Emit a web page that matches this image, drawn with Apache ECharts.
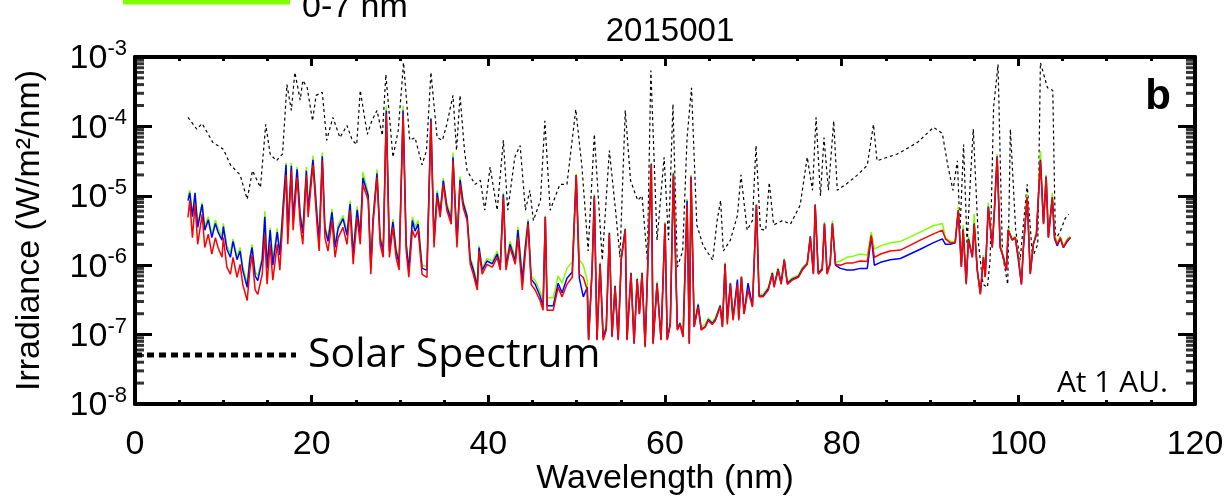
<!DOCTYPE html>
<html>
<head>
<meta charset="utf-8">
<script src="https://cdn.jsdelivr.net/npm/echarts/dist/echarts.min.js"></script>
<style>html,body{margin:0;padding:0;background:#fff;}#chart{width:1226px;height:499px;}</style>
</head>
<body>
<div id="chart"></div>
<script>
// ---- Data ----
const xTicks = [0, 20, 40, 60, 80, 100, 120];
const yDecades = [1e-8, 1e-7, 1e-6, 1e-5, 1e-4, 1e-3];

// Solar spectrum (black dotted)
const solarWl = [6.0,7.0,7.6,8.8,10.0,10.8,11.9,12.7,13.3,14.2,14.8,15.3,16.0,16.7,17.2,17.7,18.1,18.7,19.0,19.5,
20.1,20.5,21.2,21.7,22.4,23.2,24.0,24.6,25.1,25.5,26.3,26.8,27.4,28.0,28.4,29.2,29.8,30.4,31.1,31.7,
32.5,33.0,33.5,34.2,34.8,35.3,36.0,36.4,36.8,37.3,37.6,38.5,39.1,39.6,40.2,41.0,41.7,42.2,43.0,43.6,
44.2,44.7,45.1,45.9,46.4,47.0,48.1,48.9,49.9,50.6,51.3,52.0,52.9,53.7,54.4,54.9,55.5,56.1,56.9,57.4,
58.0,58.4,59.1,59.9,60.4,60.9,61.4,62.0,62.5,63.0,63.6,64.3,65.4,65.9,66.3,66.6,67.4,68.2,68.6,69.3,
69.9,70.3,70.8,71.4,71.8,72.3,73.3,74.2,75.3,76.1,76.7,77.1,77.6,78.0,78.5,79.1,79.5,80.6,81.8,82.9,
83.6,84.0,85.2,86.3,86.6,88.6,90.4,91.4,92.0,92.6,93.1,93.4,93.8,94.2,94.6,94.9,95.5,96.0,96.5,96.8,
97.2,97.7,98.2,98.8,99.1,99.7,100.2,101.0,101.6,102.2,102.5,103.3,103.9,104.2,104.8,105.3,105.7];
const solarIrr = [1.35e-4,9.1e-5,1.1e-4,5.9e-5,4.7e-5,2.8e-5,2.0e-5,8.9e-6,2.3e-5,1.32e-5,1.07e-4,4.0e-5,3.2e-5,4.0e-5,4.0e-4,1.7e-4,6.0e-4,2.4e-4,4.6e-4,3.6e-4,
1.2e-4,2.8e-4,3.1e-4,6.3e-5,1.35e-4,6.9e-5,1.03e-4,6.3e-5,5.5e-5,3.3e-4,7.7e-5,1.2e-4,1.7e-4,7.4e-5,5.6e-4,3.6e-5,8.8e-5,8.3e-4,6.3e-5,6.9e-5,
2.8e-5,4.5e-5,6.0e-4,6.9e-5,6.3e-5,1.07e-4,2.8e-4,4.5e-5,2.8e-4,4.5e-5,2.3e-5,1.46e-5,1.67e-5,6.2e-6,2.6e-5,6.2e-6,6.3e-5,6.2e-6,3.6e-5,5.3e-5,
6.2e-6,1.2e-5,4.4e-6,8.6e-6,1.2e-4,6.2e-6,1.46e-5,1.46e-5,1.76e-4,2.6e-5,1.6e-6,7.7e-5,1.18e-6,4.5e-5,6.2e-6,1.3e-6,1.7e-4,1.67e-5,8.6e-6,1.0e-5,
1.18e-6,6.4e-4,2.3e-6,3.6e-5,2.3e-6,2.1e-4,9.4e-7,1.6e-6,6.9e-5,3.6e-4,3.8e-6,1.94e-6,1.18e-6,4.4e-6,8.6e-6,1.6e-6,2.3e-6,5.2e-6,2.0e-5,3.2e-6,
4.4e-6,5.3e-5,3.3e-6,3.2e-6,1.56e-5,3.8e-6,4.4e-6,3.9e-6,7.3e-6,3.6e-5,1.2e-5,1.35e-4,1.0e-5,6.9e-5,1.2e-5,1.2e-4,1.2e-5,1.5e-5,2.0e-5,2.75e-5,
1.07e-4,3.2e-5,3.6e-5,4.0e-5,4.2e-5,5.9e-5,9.7e-5,7.9e-5,2.8e-5,1.2e-5,3.2e-5,3.2e-6,5.5e-5,2.0e-6,2.0e-5,9.1e-5,2.0e-6,5.3e-7,4.8e-7,1.18e-6,
1.9e-4,7.8e-4,1.44e-6,5.3e-7,9.1e-5,3.2e-6,1.18e-6,1.46e-5,1.3e-6,2.0e-6,8.3e-4,3.6e-4,3.3e-4,2.3e-6,3.2e-6,4.7e-6,5.4e-6];

// Model spectra (shared wavelength grid)
const wavelength = [
6.0,6.2,6.5,6.8,7.1,7.6,7.9,8.3,8.7,9.1,
9.4,9.85,10.0,10.4,10.8,11.1,11.55,11.9,12.2,12.7,
13.0,13.25,13.6,13.9,14.4,14.7,14.95,15.3,15.6,16.1,
16.4,16.8,17.1,17.3,17.7,17.9,18.35,18.7,19.0,19.4,
19.6,20.15,20.6,20.85,21.2,21.5,21.85,22.3,22.65,23.0,
23.55,24.0,24.35,24.7,25.15,25.5,25.8,26.4,26.7,26.95,
27.4,27.75,28.1,28.45,28.8,29.2,29.55,29.9,30.35,30.7,
31.0,31.4,31.7,32.05,32.5,33.05,33.5,33.85,34.2,34.55,
34.9,35.3,35.8,36.0,36.45,36.8,37.15,37.6,37.95,38.3,
38.75,38.95,39.3,39.85,40.45,41.0,41.35,41.7,42.0,42.45,
43.05,43.35,43.85,44.15,44.5,44.85,45.3,45.85,46.2,46.45,
46.65,47.35,47.9,48.35,48.9,49.5,49.95,50.3,50.75,51.2,
51.35,51.75,52.0,52.3,52.65,53.0,53.35,53.7,54.0,54.35,
54.7,55.05,55.5,55.7,56.15,56.5,56.85,57.1,57.4,57.75,
58.1,58.45,58.65,59.1,59.55,60.0,60.25,60.6,60.95,61.4,
61.7,62.05,62.5,62.75,62.95,63.3,63.75,64.1,64.55,64.9,
65.35,65.7,66.25,66.5,66.8,67.05,67.4,67.7,68.2,68.35,
68.65,68.95,69.4,69.9,70.35,70.65,71.1,71.7,72.15,72.35,
72.8,73.15,73.5,73.85,74.4,75.1,75.55,76.1,76.45,76.8,
77.0,77.35,77.8,78.05,78.35,78.7,78.95,79.3,79.85,80.6,
81.3,82.1,82.9,83.35,83.7,84.4,85.5,86.65,88.9,90.35,
91.4,91.75,92.3,92.85,93.2,93.55,93.75,94.1,94.35,94.8,
95.0,95.35,95.7,96.05,96.25,96.6,97.05,97.3,97.6,97.95,
98.3,98.65,98.85,99.3,99.65,100.0,100.35,100.55,101.0,101.35,
101.7,102.05,102.5,102.85,103.15,103.4,103.85,104.1,104.4,104.75,
105.1,105.55,105.9];

const irrRed = [
4.9e-6,8.6e-6,2.5e-6,7.5e-6,2.0e-6,5.4e-6,1.8e-6,2.8e-6,1.44e-6,2.5e-6,
1.8e-6,1.3e-6,2.5e-6,9.4e-7,7.4e-7,1.3e-6,6.7e-7,1.03e-6,5.3e-7,3.1e-7,
8.5e-7,1.4e-6,4.4e-7,3.8e-7,7.4e-7,2.8e-6,5.3e-7,2.0e-6,6.1e-7,2.0e-6,
8.5e-7,6.2e-6,2.0e-5,2.0e-6,2.3e-5,3.2e-6,1.85e-5,3.9e-6,2.0e-6,2.0e-5,
4.9e-6,2.8e-5,3.9e-6,1.6e-6,3.2e-5,2.5e-6,1.6e-6,4.4e-6,1.3e-6,2.5e-6,
3.5e-6,2.0e-6,6.2e-6,1.03e-6,4.9e-6,2.0e-6,1.46e-5,8.6e-6,7.4e-7,3.9e-6,
1.85e-5,2.0e-6,1.3e-6,1.5e-4,1.3e-6,3.5e-6,1.3e-6,8.5e-7,1.5e-4,1.6e-6,
6.7e-7,3.2e-6,2.5e-6,3.2e-6,7.4e-7,6.7e-7,1.2e-4,1.8e-6,9.5e-6,4.9e-6,
1.46e-5,6.2e-6,3.9e-6,3.2e-5,1.8e-6,1.46e-5,6.8e-6,4.4e-6,1.03e-6,7.4e-7,
4.4e-7,1.6e-6,7.4e-7,1.03e-6,9.4e-7,1.3e-6,8.5e-7,9.5e-6,8.5e-7,1.8e-6,
1.03e-6,2.5e-6,4.4e-7,1.3e-6,3.9e-6,5.3e-7,4.4e-7,3.1e-7,2.25e-7,4.9e-6,
2.25e-7,2.25e-7,4.8e-7,3.5e-7,5.3e-7,6.7e-7,2.0e-5,7.4e-7,6.7e-7,4.4e-7,
8.3e-8,8.5e-7,9.5e-6,8.3e-8,1.03e-6,8.3e-8,1.16e-7,2.8e-6,9.2e-8,4.8e-7,
8.3e-8,1.18e-6,3.2e-6,8.3e-8,7.4e-7,7.3e-8,6.1e-7,1.97e-7,7.4e-7,6.6e-8,
1.44e-6,2.8e-5,7.3e-8,5.3e-7,8.3e-8,3.9e-6,8.3e-8,1.4e-7,2.0e-5,1.16e-7,
1.4e-7,9.2e-8,7.5e-6,7.3e-8,1.85e-5,1.28e-7,2.5e-7,1.16e-7,1.28e-7,1.6e-7,
1.4e-7,1.6e-7,2.5e-7,1.28e-7,1.03e-6,1.4e-7,5.3e-7,1.6e-7,5.3e-7,1.6e-7,
6.7e-7,1.97e-7,4.4e-7,2.5e-7,7.3e-6,3.5e-7,3.5e-7,4.4e-7,7.4e-7,4.8e-7,
8.5e-7,5.3e-7,1.18e-6,5.3e-7,6.1e-7,6.7e-7,8.5e-7,1.03e-6,2.5e-6,7.4e-7,
7.3e-6,7.4e-7,8.5e-7,3.9e-6,7.4e-7,1.03e-6,3.9e-6,1.03e-6,1.0e-6,1.08e-6,
1.08e-6,1.15e-6,1.13e-6,2.7e-6,1.3e-6,1.45e-6,1.6e-6,1.65e-6,2.3e-6,2.8e-6,
3.2e-6,2.4e-6,2.1e-6,2.1e-6,6.2e-6,9.4e-7,3.2e-6,5.3e-7,2.3e-6,1.3e-6,
3.9e-6,8.5e-7,3.8e-7,1.3e-6,6.7e-7,6.8e-6,1.8e-6,6.2e-6,3.6e-5,1.8e-6,
1.3e-6,8.5e-7,3.2e-6,2.3e-6,2.5e-6,1.3e-6,5.3e-7,1.6e-6,9.5e-6,7.4e-7,
2.0e-6,2.8e-6,3.2e-5,3.9e-6,1.85e-5,2.5e-6,9.5e-6,2.5e-6,2.0e-6,2.5e-6,
1.8e-6,2.3e-6,2.5e-6];

const irrGreen = [
9.5e-6,1.2e-5,5.5e-6,1.0e-5,4.0e-6,8.0e-6,3.6e-6,5.0e-6,2.8e-6,4.5e-6,
3.4e-6,2.6e-6,4.0e-6,1.9e-6,1.5e-6,2.4e-6,1.3e-6,1.8e-6,9.5e-7,5.5e-7,
1.3e-6,2.0e-6,8.0e-7,7.0e-7,1.3e-6,6.0e-6,1.0e-6,3.5e-6,1.2e-6,3.4e-6,
1.6e-6,9.0e-6,3.0e-5,3.4e-6,3.0e-5,5.0e-6,2.6e-5,5.8e-6,3.2e-6,2.6e-5,
7.0e-6,3.8e-5,5.8e-6,2.5e-6,4.2e-5,3.8e-6,2.5e-6,6.5e-6,2.0e-6,3.8e-6,
5.2e-6,3.0e-6,8.5e-6,1.6e-6,7.0e-6,3.0e-6,2.2e-5,1.1e-5,1.0e-6,5.0e-6,
2.4e-5,2.7e-6,1.8e-6,2.0e-4,1.8e-6,4.6e-6,1.8e-6,1.2e-6,2.0e-4,2.2e-6,
9.5e-7,5.0e-6,3.6e-6,4.4e-6,1.0e-6,9.5e-7,1.3e-4,2.4e-6,1.2e-5,6.2e-6,
1.8e-5,7.8e-6,5.0e-6,4.2e-5,2.4e-6,1.9e-5,8.5e-6,5.4e-6,1.3e-6,9.5e-7,
5.5e-7,1.9e-6,9.0e-7,1.25e-6,1.15e-6,1.6e-6,1.05e-6,1.1e-5,1.05e-6,2.2e-6,
1.3e-6,3.6e-6,6.5e-7,1.9e-6,4.6e-6,7.0e-7,6.0e-7,4.2e-7,3.2e-7,5.2e-6,
3.4e-7,3.4e-7,7.0e-7,5.5e-7,9.0e-7,1.1e-6,2.1e-5,1.2e-6,1.0e-6,6.0e-7,
9.0e-8,9.5e-7,1.05e-5,9.0e-8,1.1e-6,9.5e-8,1.4e-7,3.0e-6,1.0e-7,5.2e-7,
9.0e-8,1.3e-6,3.4e-6,9.0e-8,8.0e-7,8.0e-8,6.6e-7,2.1e-7,8.0e-7,7.2e-8,
1.8e-6,3.0e-5,8.0e-8,5.8e-7,9.0e-8,4.2e-6,9.0e-8,1.5e-7,2.2e-5,1.3e-7,
1.5e-7,1.0e-7,9.0e-6,8.0e-8,2.0e-5,1.4e-7,2.8e-7,1.3e-7,1.4e-7,1.75e-7,
1.5e-7,1.75e-7,2.7e-7,1.4e-7,1.1e-6,1.5e-7,5.6e-7,1.75e-7,5.8e-7,1.75e-7,
7.0e-7,2.1e-7,4.8e-7,2.7e-7,7.6e-6,3.8e-7,3.8e-7,4.8e-7,8.0e-7,5.2e-7,
9.2e-7,5.7e-7,1.25e-6,5.7e-7,6.6e-7,7.2e-7,9.2e-7,1.1e-6,2.6e-6,8.0e-7,
7.6e-6,8.0e-7,9.2e-7,4.2e-6,8.0e-7,1.1e-6,4.4e-6,1.1e-6,1.15e-6,1.3e-6,
1.35e-6,1.45e-6,1.4e-6,3.0e-6,1.7e-6,1.9e-6,2.1e-6,2.2e-6,3.0e-6,3.7e-6,
4.0e-6,2.5e-6,2.2e-6,2.2e-6,7.0e-6,1.0e-6,3.8e-6,5.8e-7,2.6e-6,1.4e-6,
5.5e-6,9.0e-7,4.0e-7,1.4e-6,7.0e-7,8.0e-6,1.9e-6,7.5e-6,4.0e-5,1.9e-6,
1.4e-6,9.0e-7,3.4e-6,2.4e-6,2.6e-6,1.4e-6,5.6e-7,1.7e-6,1.05e-5,8.0e-7,
2.1e-6,3.0e-6,4.4e-5,4.2e-6,2.0e-5,2.6e-6,1.1e-5,2.6e-6,2.1e-6,2.6e-6,
1.9e-6,2.4e-6,2.6e-6];

const irrBlue = [
8.5e-6,1.1e-5,5.0e-6,1.1e-5,3.5e-6,7.5e-6,3.2e-6,4.5e-6,2.5e-6,4.0e-6,
3.0e-6,2.3e-6,3.6e-6,1.7e-6,1.3e-6,2.2e-6,1.2e-6,1.6e-6,8.5e-7,4.8e-7,
1.2e-6,1.8e-6,7.0e-7,6.0e-7,1.2e-6,5.0e-6,9.0e-7,3.2e-6,1.0e-6,3.0e-6,
1.4e-6,8.0e-6,2.8e-5,3.0e-6,2.7e-5,4.5e-6,2.4e-5,5.2e-6,2.9e-6,2.3e-5,
6.3e-6,3.3e-5,5.2e-6,2.2e-6,3.7e-5,3.4e-6,2.2e-6,5.8e-6,1.8e-6,3.4e-6,
4.7e-6,2.7e-6,7.6e-6,1.4e-6,6.3e-6,2.7e-6,1.8e-5,1.0e-5,9.0e-7,4.6e-6,
2.1e-5,2.4e-6,1.6e-6,1.7e-4,1.6e-6,4.2e-6,1.6e-6,1.05e-6,1.7e-4,2.0e-6,
8.5e-7,4.4e-6,3.1e-6,3.9e-6,9.0e-7,8.5e-7,1.3e-4,2.2e-6,1.1e-5,5.6e-6,
1.65e-5,7.0e-6,4.5e-6,3.6e-5,2.1e-6,1.7e-5,7.8e-6,5.0e-6,1.2e-6,8.5e-7,
5.0e-7,1.8e-6,8.4e-7,1.15e-6,1.05e-6,1.45e-6,9.5e-7,1.05e-5,9.5e-7,2.0e-6,
1.15e-6,3.2e-6,6.0e-7,1.6e-6,4.3e-6,6.3e-7,5.3e-7,3.6e-7,2.6e-7,5.0e-6,
2.6e-7,2.6e-7,5.5e-7,4.0e-7,6.5e-7,8.0e-7,2.0e-5,6.5e-7,3.5e-7,4.8e-7,
8.5e-8,9.0e-7,1.0e-5,8.5e-8,1.05e-6,9.0e-8,1.25e-7,2.9e-6,9.5e-8,5.0e-7,
8.5e-8,1.25e-6,3.3e-6,8.5e-8,7.7e-7,7.5e-8,6.3e-7,2.0e-7,7.7e-7,6.8e-8,
1.6e-6,2.9e-5,7.5e-8,5.5e-7,8.5e-8,4.0e-6,8.5e-8,1.45e-7,2.1e-5,1.2e-7,
1.45e-7,9.5e-8,8.5e-6,7.5e-8,1.9e-5,1.3e-7,2.7e-7,1.2e-7,1.3e-7,1.65e-7,
1.45e-7,1.65e-7,2.6e-7,1.3e-7,1.05e-6,1.7e-7,5.5e-7,1.7e-7,6.2e-7,1.7e-7,
6.8e-7,2.0e-7,5.5e-7,2.6e-7,7.4e-6,3.6e-7,3.6e-7,4.6e-7,7.7e-7,5.0e-7,
8.8e-7,5.5e-7,1.2e-6,5.5e-7,6.3e-7,6.9e-7,8.8e-7,1.05e-6,2.6e-6,7.7e-7,
7.5e-6,7.7e-7,8.8e-7,4.0e-6,7.7e-7,1.05e-6,4.0e-6,1.0e-6,9.0e-7,8.5e-7,
8.5e-7,9.0e-7,9.0e-7,2.6e-6,1.0e-6,1.1e-6,1.2e-6,1.25e-6,1.7e-6,2.1e-6,
2.4e-6,2.0e-6,2.0e-6,2.1e-6,6.2e-6,9.5e-7,3.3e-6,5.5e-7,2.4e-6,1.3e-6,
4.0e-6,8.5e-7,3.9e-7,1.3e-6,6.8e-7,7.0e-6,1.8e-6,6.5e-6,3.7e-5,1.8e-6,
1.3e-6,8.5e-7,3.2e-6,2.3e-6,2.5e-6,1.2e-6,5.3e-7,1.6e-6,9.5e-6,7.6e-7,
2.0e-6,2.8e-6,3.3e-5,4.0e-6,1.9e-5,2.5e-6,9.5e-6,2.4e-6,1.9e-6,2.4e-6,
1.8e-6,2.2e-6,2.5e-6];

// ---- Build chart ----
const FONT = '"Liberation Sans", Arial, Helvetica, sans-serif';
const pair = (xs, ys) => xs.map((x, i) => [x, ys[i]]);

// log-axis minor tick positions (2..9 x 10^n), drawn as short tick marks on both vertical spines
const minorTickLeft = [];
const minorTickRight = [];
for (let e = -8; e < -3; e++) {
  for (let k = 2; k <= 9; k++) {
    minorTickLeft.push([0, k * Math.pow(10, e)]);
    minorTickRight.push([120, k * Math.pow(10, e)]);
  }
}

const chart = echarts.init(document.getElementById('chart'), null, {renderer: 'canvas'});

const yLabel = {
  margin: 8,
  formatter: v => '{b|10}{s|' + Math.round(Math.log10(v)) + '}',
  rich: {
    b: {fontSize: 34, fontFamily: FONT, color: '#000', lineHeight: 38, verticalAlign: 'bottom'},
    s: {fontSize: 22, fontFamily: FONT, color: '#000', lineHeight: 14, verticalAlign: 'top'}
  }
};

const tickMark = (offset) => ({
  type: 'scatter', xAxisIndex: 0, yAxisIndex: 0, silent: true, clip: false, z: 10,
  symbol: 'rect', symbolSize: [9, 3], symbolOffset: [offset, 0],
  itemStyle: {color: '#000'}, emphasis: {disabled: true}, tooltip: {show: false}
});

const option = {
  animation: false,
  backgroundColor: '#fff',
  title: {
    text: '2015001', left: 665, top: 10, textAlign: 'center',
    textStyle: {fontFamily: FONT, fontSize: 33, fontWeight: 'normal', color: '#000'}
  },
  grid: {left: 135, right: 31, top: 57, bottom: 95, containLabel: false, outerBoundsMode: 'none'},
  xAxis: [{
    type: 'value', min: 0, max: 120, interval: 20, position: 'bottom',
    name: 'Wavelength (nm)', nameLocation: 'middle', nameGap: 58, nameMoveOverlap: false,
    nameTextStyle: {fontFamily: FONT, fontSize: 34, color: '#000'},
    axisLine: {show: true, onZero: false, lineStyle: {color: '#000', width: 4}},
    axisTick: {show: true, inside: true, length: 9, lineStyle: {color: '#000', width: 3}},
    minorTick: {show: true, splitNumber: 4, length: 4, lineStyle: {color: '#000', width: 3}},
    axisLabel: {show: true, margin: 24, fontFamily: FONT, fontSize: 34, color: '#000',
      formatter: v => xTicks.includes(v) ? String(v) : ''},
    splitLine: {show: false}
  }, {
    type: 'value', min: 0, max: 120, interval: 20, position: 'top',
    axisLine: {show: true, onZero: false, lineStyle: {color: '#000', width: 4}},
    axisTick: {show: true, inside: true, length: 9, lineStyle: {color: '#000', width: 3}},
    minorTick: {show: true, splitNumber: 4, length: 4, lineStyle: {color: '#000', width: 3}},
    axisLabel: {show: false}, splitLine: {show: false}
  }],
  yAxis: [{
    type: 'log', logBase: 10, min: yDecades[0], max: yDecades[yDecades.length - 1], position: 'left',
    name: 'Irradiance (W/m²/nm)', nameLocation: 'middle', nameGap: 88, nameRotate: 90, nameMoveOverlap: false,
    nameTextStyle: {fontFamily: FONT, fontSize: 34, color: '#000'},
    axisLine: {show: true, onZero: false, lineStyle: {color: '#000', width: 4}},
    axisTick: {show: true, inside: true, length: 17, lineStyle: {color: '#000', width: 3}},
    axisLabel: yLabel,
    splitLine: {show: false}
  }, {
    type: 'log', logBase: 10, min: yDecades[0], max: yDecades[yDecades.length - 1], position: 'right',
    axisLine: {show: true, onZero: false, lineStyle: {color: '#000', width: 4}},
    axisTick: {show: true, inside: true, length: 17, lineStyle: {color: '#000', width: 3}},
    axisLabel: {show: false}, splitLine: {show: false}
  }],
  series: [
    {
      name: 'Solar Spectrum', type: 'line', xAxisIndex: 0, yAxisIndex: 0,
      data: pair(solarWl, solarIrr), showSymbol: false, symbol: 'none', z: 2,
      lineStyle: {color: '#000', width: 1.2, type: [3, 3]}
    },
    {
      name: 'green', type: 'line', data: pair(wavelength, irrGreen), symbol: 'none', z: 3,
      lineStyle: {color: '#7fff00', width: 1.5}
    },
    {
      name: 'blue', type: 'line', data: pair(wavelength, irrBlue), symbol: 'none', z: 4,
      lineStyle: {color: '#0000ff', width: 1.5}
    },
    {
      name: 'red', type: 'line', data: pair(wavelength, irrRed), symbol: 'none', z: 5,
      lineStyle: {color: '#ff0000', width: 1.5}
    },
    Object.assign({name: 'minorTicksLeft', data: minorTickLeft}, tickMark(4.5)),
    Object.assign({name: 'minorTicksRight', data: minorTickRight}, tickMark(-4.5))
  ],
  graphic: [
    {type: 'line', shape: {x1: 123, y1: 0, x2: 290, y2: 0}, style: {stroke: '#7fff00', lineWidth: 9}},
    {type: 'text', x: 302, y: 8, style: {text: '0-7 nm', font: '34px ' + FONT, fill: '#000', textVerticalAlign: 'middle'}},
    {type: 'line', shape: {x1: 135, y1: 355, x2: 296, y2: 355}, style: {stroke: '#000', lineWidth: 5, lineDash: [7, 5]}},
    {type: 'text', x: 308, y: 355, style: {text: 'Solar Spectrum', font: '41px "Open Sans", "Noto Sans", sans-serif', fill: '#000', textVerticalAlign: 'middle'}},
    {type: 'text', x: 1168, y: 383, style: {text: 'At 1 AU.', font: '30px "Open Sans", "Noto Sans", sans-serif', fill: '#000', textAlign: 'right', textVerticalAlign: 'middle'}},
    {type: 'text', x: 1158, y: 97, style: {text: 'b', font: 'bold 42px ' + FONT, fill: '#000', textAlign: 'center', textVerticalAlign: 'middle'}}
  ]
};
chart.setOption(option);
</script>
</body>
</html>
